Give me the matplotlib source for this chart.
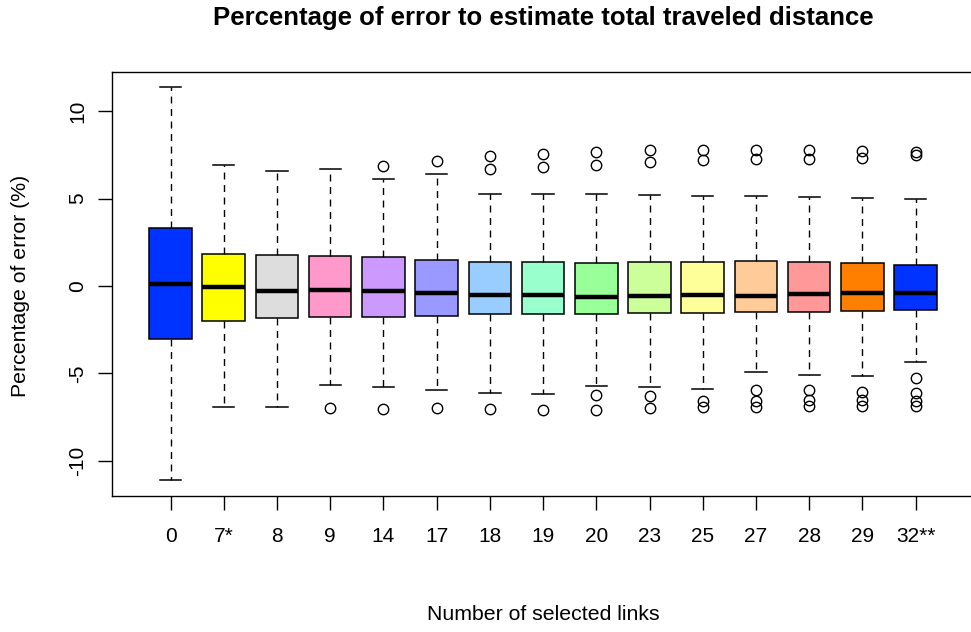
import matplotlib.pyplot as plt

plt.rcParams['font.family'] = ['Liberation Sans', 'DejaVu Sans']

# number of selected links (x axis)
labels = ["0", "7*", "8", "9", "14", "17", "18", "19", "20", "23", "25", "27", "28", "29", "32**"]

# box statistics (percentage of error)
whis_hi = [11.37, 6.95, 6.59, 6.72, 6.11, 6.38, 5.26, 5.26, 5.24, 5.20, 5.16, 5.14, 5.10, 5.05, 4.95]
q3 = [3.30, 1.83, 1.75, 1.73, 1.68, 1.50, 1.37, 1.37, 1.33, 1.35, 1.37, 1.43, 1.35, 1.29, 1.20]
medians = [0.11, -0.04, -0.29, -0.23, -0.29, -0.38, -0.53, -0.53, -0.61, -0.57, -0.51, -0.55, -0.48, -0.42, -0.38]
q1 = [-3.05, -2.00, -1.83, -1.77, -1.77, -1.71, -1.60, -1.60, -1.60, -1.54, -1.54, -1.50, -1.47, -1.45, -1.37]
whis_lo = [-11.12, -6.95, -6.95, -5.68, -5.79, -5.98, -6.11, -6.17, -5.71, -5.81, -5.92, -4.93, -5.07, -5.14, -4.36]
outliers = [
    [],
    [],
    [],
    [-6.99],
    [6.88, -7.03],
    [7.16, -6.99],
    [7.45, 6.69, -7.03],
    [7.58, 6.82, -7.09],
    [7.66, 6.91, -6.23, -7.12],
    [7.81, 7.09, -6.32, -6.99],
    [7.81, 7.20, -6.61, -6.90],
    [7.81, 7.24, -5.94, -6.61, -6.90],
    [7.81, 7.24, -5.94, -6.55, -6.86],
    [7.73, 7.33, -6.04, -6.55, -6.86],
    [7.68, 7.49, -5.24, -6.10, -6.61, -6.86],
]

colors = ["#0033FF", "#FFFF00", "#DDDDDD", "#FF99CC", "#CC99FF", "#9999FF", "#99CCFF",
          "#99FFCC", "#99FF99", "#CCFF99", "#FFFF99", "#FFCC99", "#FF9999", "#FF8000", "#0033FF"]

stats = []
for i in range(len(labels)):
    stats.append({"label": labels[i], "med": medians[i], "q1": q1[i], "q3": q3[i],
                  "whislo": whis_lo[i], "whishi": whis_hi[i], "fliers": outliers[i]})

fig = plt.figure(figsize=(9.71, 6.32), dpi=100)
ax = fig.add_axes([0.1153, 0.2152, 0.888, 0.671])

positions = list(range(1, len(labels) + 1))
bp = ax.bxp(stats, positions=positions, widths=0.8, patch_artist=True,
            boxprops=dict(edgecolor="black", linewidth=1.1),
            medianprops=dict(color="black", linewidth=3.2, solid_capstyle="butt"),
            whiskerprops=dict(color="black", linewidth=1.0, linestyle=(0, (5, 4))),
            capprops=dict(color="black", linewidth=1.1),
            flierprops=dict(marker="o", markerfacecolor="none", markeredgecolor="black",
                            markersize=7.5, markeredgewidth=1.0, linestyle="none"))
for patch, c in zip(bp["boxes"], colors):
    patch.set_facecolor(c)

ax.set_xlim(-0.1, 16.1)
ax.set_ylim(-12.02, 12.25)
ax.set_yticks([-10, -5, 0, 5, 10])
ax.set_yticklabels(["-10", "-5", "0", "5", "10"])
ax.tick_params(axis="both", direction="out", length=10, width=1.0, labelsize=15)
ax.tick_params(axis="x", pad=12)
ax.tick_params(axis="y", labelrotation=90, pad=8)
for t in ax.get_yticklabels():
    t.set_va("center")
for s in ax.spines.values():
    s.set_linewidth(1.0)

fig.text(0.56, 0.971, "Percentage of error to estimate total traveled distance",
         ha="center", va="center", fontsize=18.5, fontweight="bold")
fig.text(0.56, 0.027, "Number of selected links", ha="center", va="center", fontsize=15.3)
fig.text(0.021, 0.547, "Percentage of error (%)", ha="center", va="center",
         rotation=90, fontsize=15.3)

fig.savefig("out.png", dpi=100)
